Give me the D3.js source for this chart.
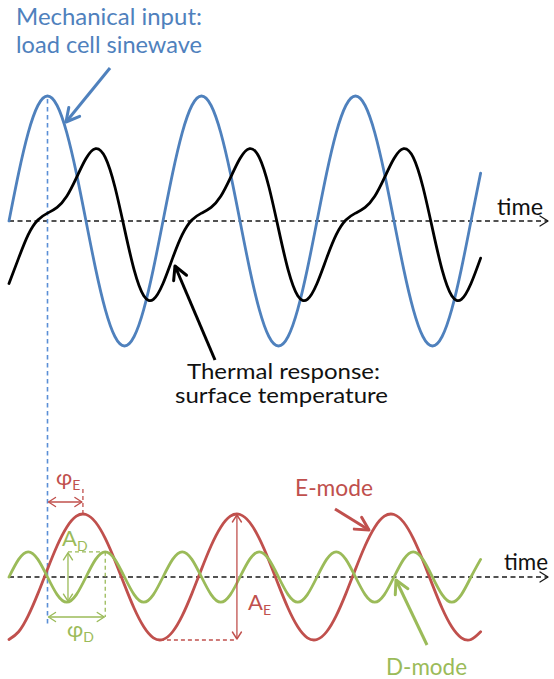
<!DOCTYPE html>
<html>
<head>
<meta charset="utf-8">
<script src="https://cdn.jsdelivr.net/npm/d3@7"></script>
<style>
  html, body { margin: 0; padding: 0; background: #ffffff; }
  svg { display: block; }
  svg text { font-family: Lato, "Open Sans", "DejaVu Sans", sans-serif; }
</style>
</head>
<body>
<svg id="chart" width="554" height="679"></svg>
<script>
// time in cycles of the load cell sinewave (16 samples per cycle)
const timeCycles = [
  0, 0.0625, 0.125, 0.1875, 0.25, 0.3125, 0.375, 0.4375, 0.5, 0.5625, 0.625, 0.6875, 0.75, 0.8125, 0.875, 0.9375,
  1, 1.0625, 1.125, 1.1875, 1.25, 1.3125, 1.375, 1.4375, 1.5, 1.5625, 1.625, 1.6875, 1.75, 1.8125, 1.875, 1.9375,
  2, 2.0625, 2.125, 2.1875, 2.25, 2.3125, 2.375, 2.4375, 2.5, 2.5625, 2.625, 2.6875, 2.75, 2.8125, 2.875, 2.9375,
  3, 3.0625
];

// mechanical input: load cell sinewave (blue)
const loadCellValues = [
  0, 0.383, 0.707, 0.924, 1, 0.924, 0.707, 0.383, 0, -0.383, -0.707, -0.924, -1, -0.924, -0.707, -0.383,
  0, 0.383, 0.707, 0.924, 1, 0.924, 0.707, 0.383, 0, -0.383, -0.707, -0.924, -1, -0.924, -0.707, -0.383,
  0, 0.383, 0.707, 0.924, 1, 0.924, 0.707, 0.383, 0, -0.383, -0.707, -0.924, -1, -0.924, -0.707, -0.383,
  0, 0.383
];

// thermal response: surface temperature (black)
const thermalValues = [
  -0.5, -0.297, -0.109, 0.008, 0.063, 0.109, 0.198, 0.345, 0.5, 0.579, 0.509, 0.274, -0.063, -0.391, -0.598, -0.627,
  -0.5, -0.297, -0.109, 0.008, 0.063, 0.109, 0.198, 0.345, 0.5, 0.579, 0.509, 0.274, -0.063, -0.391, -0.598, -0.627,
  -0.5, -0.297, -0.109, 0.008, 0.063, 0.109, 0.198, 0.345, 0.5, 0.579, 0.509, 0.274, -0.063, -0.391, -0.598, -0.627,
  -0.5, -0.297
];

// E-mode component (red)
const eModeValues = [
  -0.992, -0.869, -0.613, -0.264, 0.125, 0.496, 0.79, 0.965, 0.992, 0.869, 0.613, 0.264, -0.125, -0.496, -0.79, -0.965,
  -0.992, -0.869, -0.613, -0.264, 0.125, 0.496, 0.79, 0.965, 0.992, 0.869, 0.613, 0.264, -0.125, -0.496, -0.79, -0.965,
  -0.992, -0.869, -0.613, -0.264, 0.125, 0.496, 0.79, 0.965, 0.992, 0.869, 0.613, 0.264, -0.125, -0.496, -0.79, -0.965,
  -0.992, -0.869
];

// D-mode component (green), twice the frequency
const dModeValues = [
  0, 0.28, 0.4, 0.28, 0, -0.28, -0.4, -0.28, 0, 0.28, 0.4, 0.28, 0, -0.28, -0.4, -0.28,
  0, 0.28, 0.4, 0.28, 0, -0.28, -0.4, -0.28, 0, 0.28, 0.4, 0.28, 0, -0.28, -0.4, -0.28,
  0, 0.28, 0.4, 0.28, 0, -0.28, -0.4, -0.28, 0, 0.28, 0.4, 0.28, 0, -0.28, -0.4, -0.28,
  0, 0.28
];

// annotation anchors (cycles)
const inputPeakTime = 0.25;
const eModePeakTime = 0.48;
const eModePeakTime2 = 1.48;
const eModeTroughTime = 0.98;
const dModePeakTime = 0.625;
const dModeArrowTime = 0.383;

const blue = "#4f81bd";
const red = "#c0504d";
const green = "#9bbb59";
const dark = "#1a1a1a";

const svg = d3.select("#chart");
const defs = svg.append("defs");

function addChevron(id, color, len, half, width) {
  defs.append("marker")
    .attr("id", id)
    .attr("markerUnits", "userSpaceOnUse")
    .attr("markerWidth", len + 4)
    .attr("markerHeight", half * 2 + 4)
    .attr("refX", len)
    .attr("refY", half)
    .attr("orient", "auto-start-reverse")
    .style("overflow", "visible")
    .append("path")
    .attr("d", "M0,0 L" + len + "," + half + " L0," + half * 2)
    .attr("fill", "none")
    .attr("stroke", color)
    .attr("stroke-width", width)
    .attr("stroke-linecap", "round")
    .attr("stroke-linejoin", "round");
}

addChevron("big-blue", blue, 13, 7, 3);
addChevron("big-black", "#000", 13, 7, 3);
addChevron("big-red", red, 13, 7, 3);
addChevron("big-green", green, 13, 7, 3);
addChevron("axis", dark, 8, 5, 1.4);
addChevron("small-red", red, 7, 4.5, 1.4);
addChevron("small-green", green, 7, 4.5, 1.4);

const x = d3.scaleLinear().domain([0, 3]).range([9, 471]);
const yTop = d3.scaleLinear().domain([-1, 1]).range([346, 96]);
const yBottom = d3.scaleLinear().domain([-1, 1]).range([640, 514]);

function series(values) {
  return timeCycles.map(function(t, i) {
    return { t: t, v: values[i] };
  });
}

function drawCurve(values, yScale, color) {
  const line = d3.line()
    .x(function(d) { return x(d.t); })
    .y(function(d) { return yScale(d.v); })
    .curve(d3.curveNatural);
  svg.append("path")
    .datum(series(values))
    .attr("d", line)
    .attr("fill", "none")
    .attr("stroke", color)
    .attr("stroke-width", 2.8)
    .attr("stroke-linecap", "round");
}

function drawLine(x1, y1, x2, y2, color, width, dash, markerEnd, markerStart) {
  const l = svg.append("line")
    .attr("x1", x1).attr("y1", y1)
    .attr("x2", x2).attr("y2", y2)
    .attr("stroke", color)
    .attr("stroke-width", width);
  if (dash) l.attr("stroke-dasharray", dash);
  if (markerEnd) l.attr("marker-end", "url(#" + markerEnd + ")");
  if (markerStart) l.attr("marker-start", "url(#" + markerStart + ")");
  return l;
}

function drawLabel(text, px, py, color, size, width) {
  const t = svg.append("text")
    .attr("x", px)
    .attr("y", py)
    .attr("fill", color)
    .attr("font-size", size)
    .text(text);
  if (width) t.attr("textLength", width).attr("lengthAdjust", "spacingAndGlyphs");
  return t;
}

function drawSymbol(main, sub, px, py, color) {
  const t = svg.append("text")
    .attr("x", px)
    .attr("y", py)
    .attr("fill", color)
    .attr("font-size", 22);
  t.append("tspan").text(main);
  t.append("tspan").attr("font-size", 14).attr("dy", 5).text(sub);
}

// time axes
drawLine(x(0), yTop(0), 548, yTop(0), dark, 1.4, "5,3.5", "axis");
drawLine(x(0), yBottom(0), 548, yBottom(0), dark, 1.4, "5,3.5", "axis");

// blue dashed reference line from the input peak
drawLine(x(inputPeakTime), yTop(1) + 3, x(inputPeakTime), 625, "#5b8fd6", 1.6, "4.5,3.5");

// curves
drawCurve(loadCellValues, yTop, blue);
drawCurve(thermalValues, yTop, "#000");
drawCurve(eModeValues, yBottom, red);
drawCurve(dModeValues, yBottom, green);

// E-mode phase
drawLine(x(eModePeakTime), 489, x(eModePeakTime), yBottom(1), red, 1.3, "4,3");
drawLine(x(inputPeakTime) + 1, 502, x(eModePeakTime) - 1, 502, red, 1.3, null, "small-red", "small-red");
drawSymbol("φ", "E", 56, 485, red);

// D-mode amplitude and phase
const dPeakY = yBottom(0.4);
const dTroughY = yBottom(-0.4);
drawLine(x(dModeArrowTime), dPeakY, x(dModePeakTime), dPeakY, green, 1.3, "4,3");
drawLine(x(dModePeakTime), dPeakY, x(dModePeakTime), 617, green, 1.3, "4,3");
drawLine(x(dModeArrowTime), dPeakY + 1, x(dModeArrowTime), dTroughY - 1, green, 1.3, null, "small-green", "small-green");
drawLine(x(inputPeakTime) + 1, 617, x(dModePeakTime) - 1, 617, green, 1.3, null, "small-green", "small-green");
drawSymbol("A", "D", 62, 546, green);
drawSymbol("φ", "D", 67, 637, green);

// E-mode amplitude
drawLine(x(eModeTroughTime), yBottom(-1), x(eModePeakTime2), yBottom(-1), red, 1.3, "4,3");
drawLine(x(eModePeakTime2), yBottom(1) + 1, x(eModePeakTime2), yBottom(-1) - 1, red, 1.3, null, "small-red", "small-red");
drawSymbol("A", "E", 248, 610, red);

// pointer arrows
drawLine(110, 68, 66, 122, blue, 3, null, "big-blue");
drawLine(215, 360, 175, 266, "#000", 3, null, "big-black");
drawLine(335, 509, 369, 530, red, 3, null, "big-red");
drawLine(427, 645, 396, 580, green, 3, null, "big-green");

// labels
drawLabel("Mechanical input:", 16, 25, blue, 23, 186);
drawLabel("load cell sinewave", 16, 53, blue, 23, 186);
drawLabel("Thermal response:", 187, 379, "#111", 21, 193);
drawLabel("surface temperature", 175, 403, "#111", 21, 213);
drawLabel("time", 497, 215, "#111", 23, 46);
drawLabel("time", 504, 570, "#111", 23, 44);
drawLabel("E-mode", 295, 496, red, 23, 78);
drawLabel("D-mode", 386, 675, green, 23, 81);
</script>
</body>
</html>
